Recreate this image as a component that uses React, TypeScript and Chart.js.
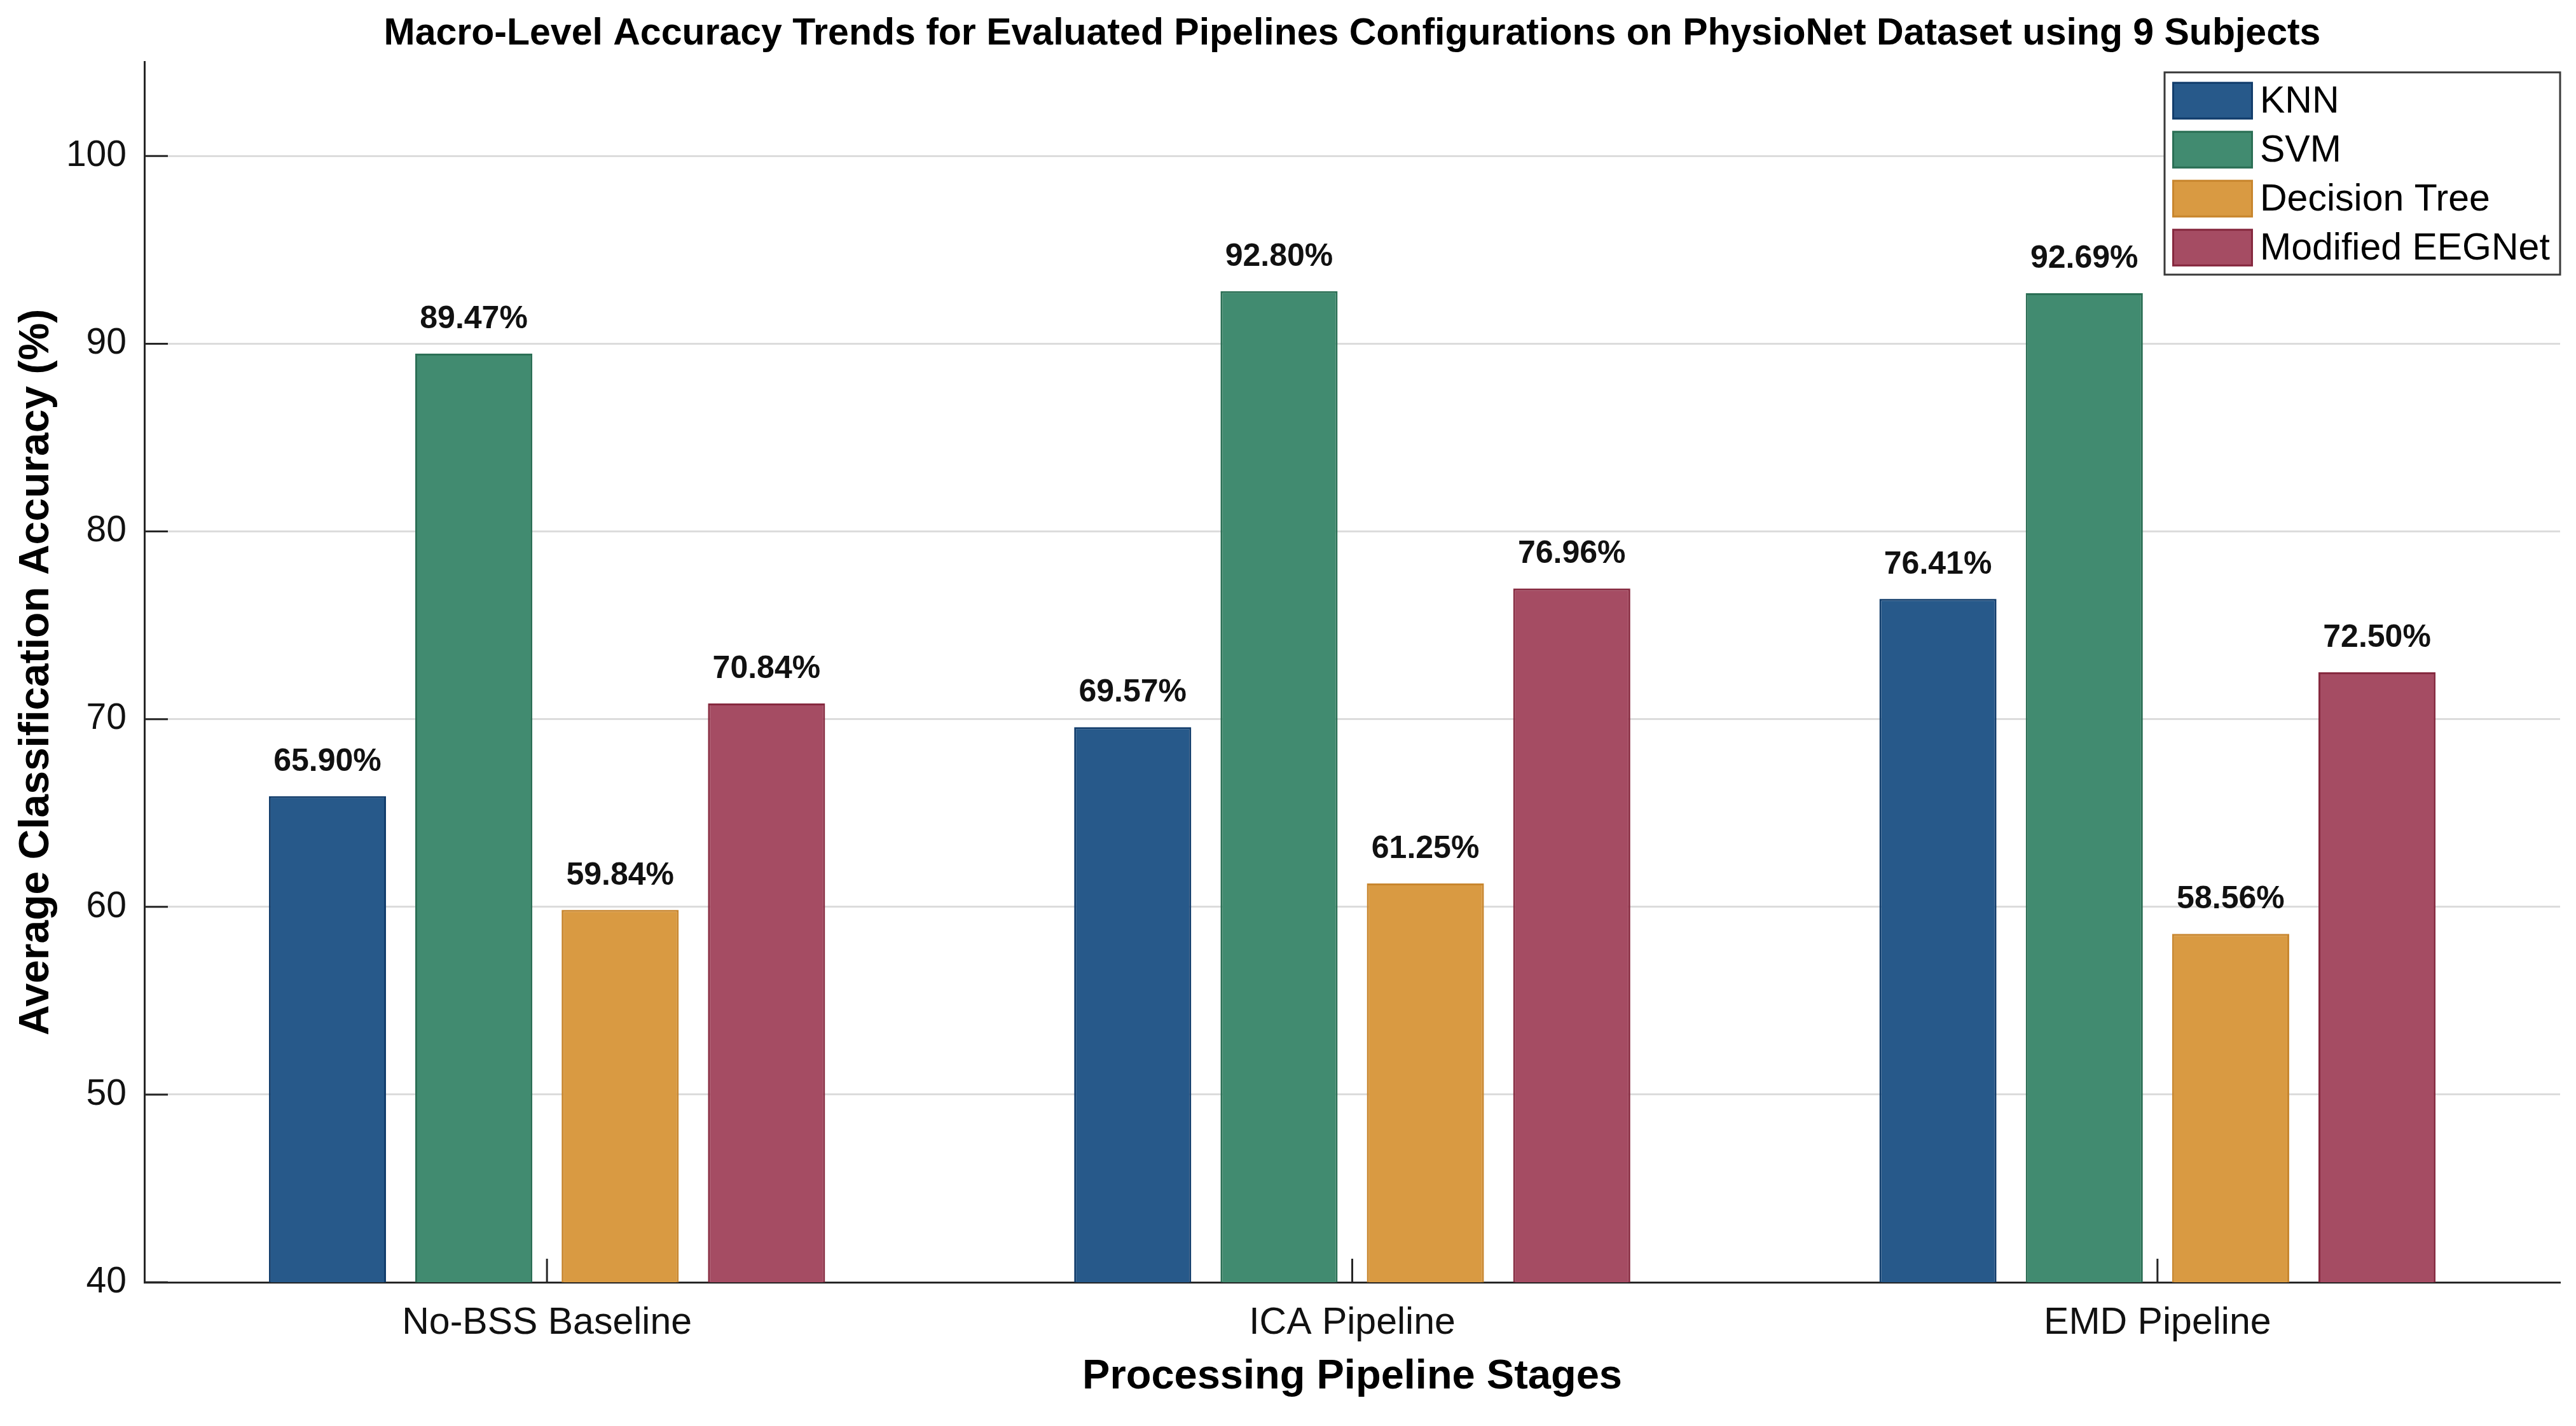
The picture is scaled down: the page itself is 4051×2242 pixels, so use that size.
import Chart from "chart.js/auto";
import {useRef, useEffect} from "react";

const categories = ["No-BSS Baseline", "ICA Pipeline", "EMD Pipeline"];
const knnValues = [65.9, 69.57, 76.41];
const svmValues = [89.47, 92.8, 92.69];
const treeValues = [59.84, 61.25, 58.56];
const eegnetValues = [70.84, 76.96, 72.5];
const seriesNames = ["KNN", "SVM", "Decision Tree", "Modified EEGNet"];
const yTicks = [40, 50, 60, 70, 80, 90, 100];

const FONT = "'Liberation Sans', Arial, Helvetica, sans-serif";
const fills = ["#27598a", "#418b70", "#d99a42", "#a54c63"];
const borders = ["#123d6c", "#2b6f55", "#c8862e", "#86293f"];

// percent labels above each bar, placed from the bar elements
const valueLabels = {
  id: "valueLabels",
  afterDatasetsDraw(chart: any) {
    const ctx = chart.ctx;
    ctx.save();
    ctx.font = `bold 50px ${FONT}`;
    ctx.fillStyle = "#111";
    ctx.textAlign = "center";
    ctx.textBaseline = "alphabetic";
    chart.data.datasets.forEach((ds: any, i: number) => {
      chart.getDatasetMeta(i).data.forEach((bar: any, j: number) => {
        ctx.fillText(`${Number(ds.data[j]).toFixed(2)}%`, bar.x, bar.y - 40);
      });
    });
    ctx.restore();
  },
};

// matlab style tick marks pointing into the axes
const inwardTicks = {
  id: "inwardTicks",
  afterDatasetsDraw(chart: any) {
    const {ctx, chartArea, scales} = chart;
    ctx.save();
    ctx.strokeStyle = "#262626";
    ctx.lineWidth = 3;
    ctx.beginPath();
    scales.y.ticks.forEach((_t: any, i: number) => {
      const py = scales.y.getPixelForTick(i);
      ctx.moveTo(chartArea.left, py);
      ctx.lineTo(chartArea.left + 37, py);
    });
    scales.x.ticks.forEach((_t: any, i: number) => {
      const px = scales.x.getPixelForTick(i);
      ctx.moveTo(px, chartArea.bottom);
      ctx.lineTo(px, chartArea.bottom - 37);
    });
    ctx.stroke();
    ctx.restore();
  },
};

// boxed legend inside the top right corner
const boxLegend = {
  id: "boxLegend",
  afterDraw(chart: any) {
    const {ctx, chartArea} = chart;
    const w = 622;
    const h = 318;
    const left = chartArea.right - w;
    const top = chartArea.top + 16;
    ctx.save();
    ctx.fillStyle = "#fff";
    ctx.fillRect(left, top, w, h);
    ctx.strokeStyle = "#3a3a3a";
    ctx.lineWidth = 3;
    ctx.strokeRect(left, top, w, h);
    ctx.font = `59px ${FONT}`;
    ctx.textAlign = "left";
    ctx.textBaseline = "middle";
    chart.data.datasets.forEach((ds: any, i: number) => {
      const sy = top + 15 + i * 77;
      ctx.fillStyle = ds.backgroundColor;
      ctx.fillRect(left + 12, sy, 127, 59);
      ctx.strokeStyle = ds.borderColor;
      ctx.lineWidth = 3;
      ctx.strokeRect(left + 13.5, sy + 1.5, 124, 56);
      ctx.fillStyle = "#000";
      ctx.fillText(ds.label, left + 150, sy + 32);
    });
    ctx.restore();
  },
};

const App = () => {
  const canvasRef = useRef<HTMLCanvasElement | null>(null);

  useEffect(() => {
    const canvas = canvasRef.current;
    if (!canvas) return;
    Chart.defaults.font.family = FONT;

    const series = [knnValues, svmValues, treeValues, eegnetValues];
    const chart = new Chart(canvas, {
      type: "bar",
      data: {
        labels: categories,
        datasets: series.map((values, i) => ({
          label: seriesNames[i],
          data: values,
          backgroundColor: fills[i],
          borderColor: borders[i],
          borderWidth: 3,
          categoryPercentage: 0.727,
          barPercentage: 0.8,
        })),
      },
      options: {
        responsive: true,
        maintainAspectRatio: false,
        animation: false,
        devicePixelRatio: 1,
        layout: {padding: {left: 0, right: 17, top: 0, bottom: 0}},
        plugins: {
          legend: {display: false},
          tooltip: {enabled: false},
          title: {
            display: true,
            fullSize: false, // center over the axes, not the whole canvas
            text: "Macro-Level Accuracy Trends for Evaluated Pipelines Configurations on PhysioNet Dataset using 9 Subjects",
            color: "#000",
            font: {size: 59, weight: "bold", family: FONT},
            padding: {top: 10, bottom: 9},
          },
        },
        scales: {
          x: {
            offset: true,
            grid: {display: false, drawTicks: false},
            border: {display: true, color: "#262626", width: 3},
            ticks: {font: {size: 59}, color: "#111", padding: 29},
            title: {
              display: true,
              text: "Processing Pipeline Stages",
              color: "#000",
              font: {size: 65, weight: "bold"},
              padding: {top: 0, bottom: 30},
            },
            afterFit: (s: any) => {
              s.height = 218;
            },
          },
          y: {
            min: 40,
            max: 105,
            afterBuildTicks: (s: any) => {
              s.ticks = yTicks.map((v) => ({value: v}));
            },
            ticks: {font: {size: 57}, color: "#111", padding: 28},
            grid: {color: "#dcdcdc", lineWidth: 3, drawTicks: false},
            border: {display: true, color: "#262626", width: 3},
            title: {
              display: true,
              text: "Average Classification Accuracy (%)",
              color: "#000",
              font: {size: 66, weight: "bold"},
              padding: {top: 10, bottom: 0},
            },
            afterFit: (s: any) => {
              s.width = 219;
            },
          },
        },
      },
      plugins: [inwardTicks, valueLabels, boxLegend],
    });

    return () => {
      chart.destroy();
    };
  }, []);

  return (
    <div style={{position: "relative", width: "4035px", height: "2226px"}}>
      <canvas ref={canvasRef}></canvas>
    </div>
  );
};

export default App;
